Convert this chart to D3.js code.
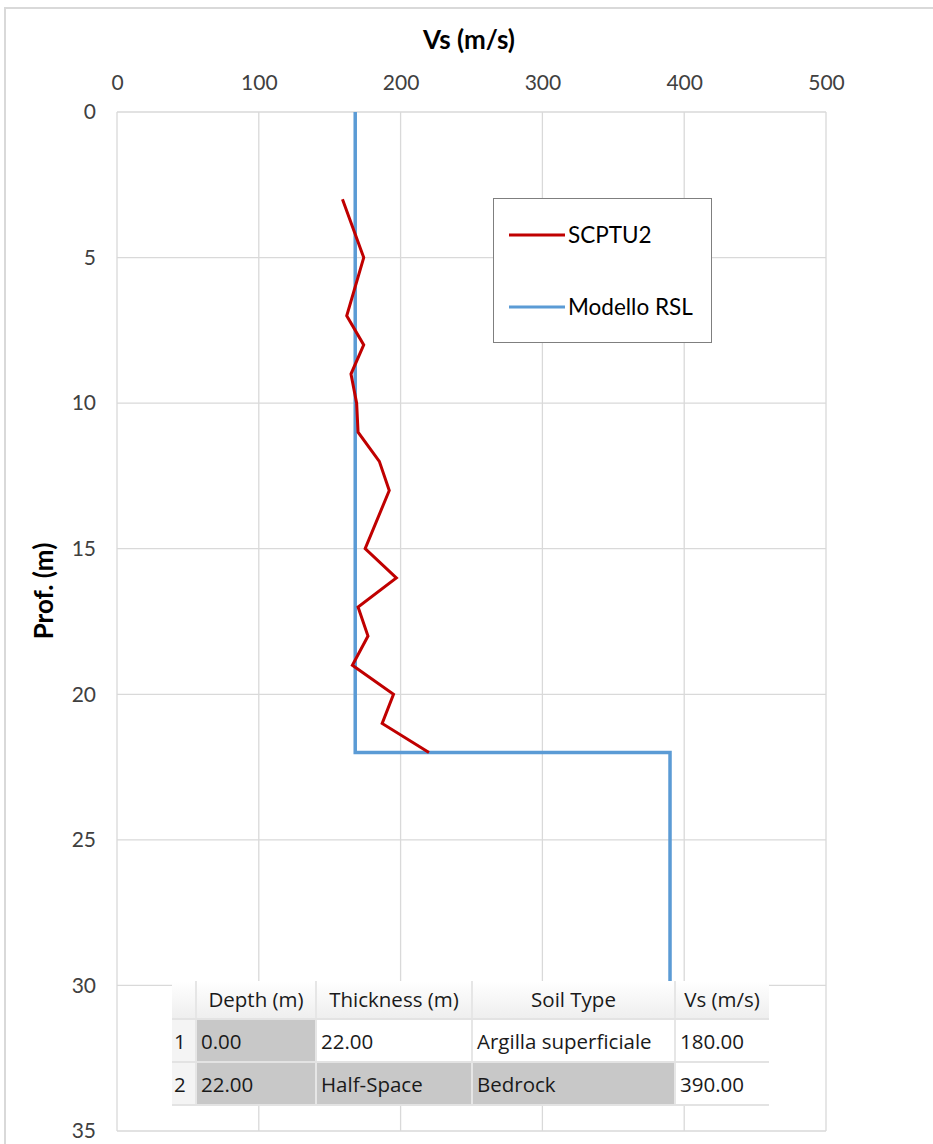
<!DOCTYPE html>
<html><head><meta charset="utf-8">
<script src="https://cdn.jsdelivr.net/npm/d3@7"></script>
<style>
body{margin:0;background:#fff;}
svg{display:block;}
</style></head>
<body>
<script>
// ---- data ----
const vsTicks = [0, 100, 200, 300, 400, 500];
const depthTicks = [0, 5, 10, 15, 20, 25, 30, 35];
const scptuDepth = [3, 5, 7, 8, 9, 10, 11, 12, 13, 15, 16, 17, 18, 19, 20, 21, 22];
const scptuVs    = [159, 174, 162, 174, 165, 169, 170, 185, 192, 175, 197, 170, 177, 166, 195, 187, 220];
const rslDepth = [0, 22, 22, 30];
const rslVs    = [168, 168, 390, 390];
const seriesNames = ["SCPTU2", "Modello RSL"];
const tableHeader = ["", "Depth (m)", "Thickness (m)", "Soil Type", "Vs (m/s)"];
const tableRows = [
  ["1", "0.00", "22.00", "Argilla superficiale", "180.00"],
  ["2", "22.00", "Half-Space", "Bedrock", "390.00"]
];
const tableShaded = [
  [false, true, false, false, false],
  [false, true, true, true, false]
];

const W = 933, H = 1144;
const svg = d3.select("body").append("svg").attr("width", W).attr("height", H);
const font = "Lato, 'Open Sans', sans-serif";

// outer chart frame
svg.append("rect").attr("x", 5).attr("y", 8).attr("width", 940).attr("height", 1150)
  .attr("fill", "#fff").attr("stroke", "#d9d9d9").attr("stroke-width", 2);

const x = d3.scaleLinear().domain([0, 500]).range([117, 826]);
const y = d3.scaleLinear().domain([0, 35]).range([112, 1131]);

// gridlines
svg.append("g").selectAll("line").data(vsTicks).join("line")
  .attr("x1", d => x(d)).attr("x2", d => x(d)).attr("y1", y(0)).attr("y2", y(35))
  .attr("stroke", "#d9d9d9").attr("stroke-width", 1.3);
svg.append("g").selectAll("line").data(depthTicks).join("line")
  .attr("x1", x(0)).attr("x2", x(500)).attr("y1", d => y(d)).attr("y2", d => y(d))
  .attr("stroke", "#d9d9d9").attr("stroke-width", 1.3);

// axes
const xAxis = svg.append("g").attr("transform", `translate(0,${y(0)})`)
  .call(d3.axisTop(x).tickValues(vsTicks).tickSize(0).tickPadding(22));
xAxis.select(".domain").remove();
xAxis.selectAll("text").attr("font-family", font).attr("font-size", 21).attr("fill", "#404040");

const yAxis = svg.append("g").attr("transform", `translate(${x(0)},0)`)
  .call(d3.axisLeft(y).tickValues(depthTicks).tickSize(0).tickPadding(21));
yAxis.select(".domain").remove();
yAxis.selectAll("text").attr("font-family", font).attr("font-size", 21).attr("fill", "#404040");

// axis titles
svg.append("text").attr("x", 469).attr("y", 49).attr("text-anchor", "middle")
  .attr("font-family", font).attr("font-size", 26).attr("font-weight", "bold").attr("fill", "#000")
  .text("Vs (m/s)");
svg.append("text").attr("transform", "translate(53,591) rotate(-90)").attr("text-anchor", "middle")
  .attr("font-family", font).attr("font-size", 26).attr("font-weight", "bold").attr("fill", "#000")
  .text("Prof. (m)");

// series
const lineGen = d3.line().x(d => x(d[0])).y(d => y(d[1]));
svg.append("path").datum(rslVs.map((v, i) => [v, rslDepth[i]]))
  .attr("d", lineGen).attr("fill", "none").attr("stroke", "#5b9bd5").attr("stroke-width", 3.5)
  .attr("stroke-linejoin", "miter");
svg.append("path").datum(scptuVs.map((v, i) => [v, scptuDepth[i]]))
  .attr("d", lineGen).attr("fill", "none").attr("stroke", "#c00000").attr("stroke-width", 3)
  .attr("stroke-linejoin", "miter");

// legend
const lg = svg.append("g");
lg.append("rect").attr("x", 493.5).attr("y", 198.5).attr("width", 218).attr("height", 144)
  .attr("fill", "#fff").attr("stroke", "#7f7f7f").attr("stroke-width", 1);
const legColors = ["#c00000", "#5b9bd5"];
const legY = [235, 307];
seriesNames.forEach((n, i) => {
  lg.append("line").attr("x1", 509).attr("x2", 565).attr("y1", legY[i]).attr("y2", legY[i])
    .attr("stroke", legColors[i]).attr("stroke-width", 3);
  lg.append("text").attr("x", 568).attr("y", legY[i] + 8).attr("font-family", font)
    .attr("font-size", 22.5).attr("fill", "#000").text(n);
});

// table overlay
const colX = [172, 196, 316, 472, 675, 769];
const rowY = [981, 1019, 1062, 1105];
const tg = svg.append("g");
const hdrGrad = svg.append("defs").append("linearGradient").attr("id", "hdr")
  .attr("x1", 0).attr("x2", 0).attr("y1", 0).attr("y2", 1);
hdrGrad.append("stop").attr("offset", "0%").attr("stop-color", "#ffffff");
hdrGrad.append("stop").attr("offset", "100%").attr("stop-color", "#eeeeee");
tg.append("rect").attr("x", colX[0]).attr("y", rowY[0]).attr("width", colX[5] - colX[0])
  .attr("height", rowY[3] - rowY[0]).attr("fill", "#fff");
tg.append("rect").attr("x", colX[0]).attr("y", rowY[0]).attr("width", colX[5] - colX[0])
  .attr("height", rowY[1] - rowY[0]).attr("fill", "url(#hdr)");
tg.append("rect").attr("x", colX[0]).attr("y", rowY[1]).attr("width", colX[1] - colX[0])
  .attr("height", rowY[3] - rowY[1]).attr("fill", "#f4f4f4");
tableRows.forEach((row, r) => {
  row.forEach((c, ci) => {
    if (tableShaded[r][ci]) {
      tg.append("rect").attr("x", colX[ci]).attr("y", rowY[r + 1]).attr("width", colX[ci + 1] - colX[ci])
        .attr("height", rowY[r + 2] - rowY[r + 1]).attr("fill", "#c8c8c8");
    }
  });
});
for (let i = 1; i < 5; i++) {
  tg.append("line").attr("x1", colX[i]).attr("x2", colX[i]).attr("y1", rowY[0]).attr("y2", rowY[3])
    .attr("stroke", "#e6e6e6").attr("stroke-width", 2);
}
[rowY[1], rowY[2], rowY[3]].forEach(yy => {
  tg.append("line").attr("x1", colX[0]).attr("x2", colX[5]).attr("y1", yy).attr("y2", yy)
    .attr("stroke", "#e3e3e3").attr("stroke-width", 2);
});
const tfont = "'Open Sans', 'Noto Sans', sans-serif";
tableHeader.forEach((h, i) => {
  if (!h) return;
  tg.append("text").attr("x", (colX[i] + colX[i + 1]) / 2).attr("y", 1007)
    .attr("text-anchor", "middle").attr("font-family", tfont).attr("font-size", 20.5)
    .attr("fill", "#1a1a1a").text(h);
});
tableRows.forEach((row, r) => {
  row.forEach((c, ci) => {
    tg.append("text").attr("x", colX[ci] + (ci === 0 ? 2 : 5)).attr("y", rowY[r + 1] + 30)
      .attr("font-family", tfont).attr("font-size", 20.5).attr("fill", "#1a1a1a").text(c);
  });
});
</script>
</body></html>
